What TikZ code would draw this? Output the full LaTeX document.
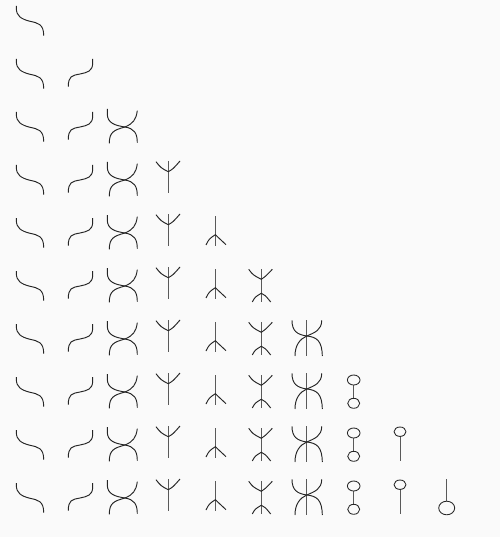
\documentclass[tikz,border=0pt]{standalone}
\tikzset{
    strand/.style={line width=0.95pt, color=black!85},
    stem/.style={line width=1pt, color=black!65},
    blob/.style={line width=0.85pt, color=black!85},
    % one pic for each column, x is absolute, y is from the top of the row
    curveleft/.pic={
        \draw [strand] (16.3,0) -- (16.3,2) .. controls (16.3,10) and (21,13) .. (30,15.3)
            .. controls (38,17) and (43.7,18) .. (43.7,29.7);
    },
    curveright/.pic={
        \draw [strand] (92.7,0) -- (92.7,4) .. controls (92.7,12.5) and (87,13.5) .. (80,15)
            .. controls (72,16.5) and (68.3,17) .. (68.3,27.7);
    },
    crossing/.pic={
        \draw [strand] (107.3,-3) -- (107.3,2) .. controls (107.3,11) and (115,13.5) .. (125,15)
            .. controls (134,16.5) and (137.3,21) .. (137.3,30.7);
        \draw [strand] (137.3,-1.3) .. controls (136,8) and (133,11.5) .. (125,15)
            .. controls (114,18) and (109.3,20) .. (109.3,31.3);
    },
    forkup/.pic={
        \draw [stem] (168.3,-4) -- (168.3,27.7);
        \draw [strand] (156,-3.3) .. controls (161,3) .. (168.3,6.7)
            .. controls (173,4) .. (180,-4);
    },
    forkdown/.pic={
        \draw [stem] (215.3,-2) -- (215.3,27.7);
        \draw [strand] (206,27) .. controls (209,21) .. (215.3,16.7) -- (226,26.7);
    },
    doublefork/.pic={
        \draw [stem] (261.3,-2) -- (261.3,31);
        \draw [strand] (248.7,-1.7) .. controls (253,4) .. (261.3,8.3) .. controls (266,5) .. (272.3,-1.7);
        \draw [strand] (252.3,31) .. controls (255,26) .. (261.3,22.3) .. controls (265,24) .. (270.7,31);
    },
    crossstem/.pic={
        \draw [stem] (306.7,-4) -- (306.7,32);
        \draw [strand] (292,-3.7) .. controls (292,7) and (297,10.5) .. (306.7,12)
            .. controls (317,13) and (322,17) .. (322.3,32);
        \draw [strand] (321.7,-3.7) .. controls (321.7,6) and (315,8.5) .. (306.7,12)
            .. controls (300,15) and (295,21) .. (295,32);
    },
    dumbbell/.pic={
        \draw [stem] (353.7,8) -- (353.7,21.3);
        \draw [blob] (353.7,3) ellipse (6.3pt and 5pt);
        \draw [blob] (353.7,26.3) ellipse (6pt and 5pt);
    },
    lollipop/.pic={
        \draw [stem] (400,6.4) -- (400,30.7);
        \draw [blob] (400,1.7) ellipse (6pt and 4.7pt);
    },
    bigloop/.pic={
        \draw [stem] (446.7,-4) -- (446.7,18.2);
        \draw [blob] (446.7,25) ellipse (8pt and 6.8pt);
    }
}

\begin{document}
\begin{tikzpicture}[x=1pt, y=-1pt]
    % page
    \fill [color=black!2] (0,0) rectangle (500,537);
    \useasboundingbox (0,0) rectangle (500,537);

    % every column starts one row lower than the one before
    \foreach \shapename [count=\col from 0] in {curveleft, curveright, crossing, forkup, forkdown, doublefork, crossstem, dumbbell, lollipop, bigloop} {
        \foreach \row in {\col,...,9} {
            \pic at (0,6+53*\row) {\shapename};
        }
    }
\end{tikzpicture}
\end{document}
